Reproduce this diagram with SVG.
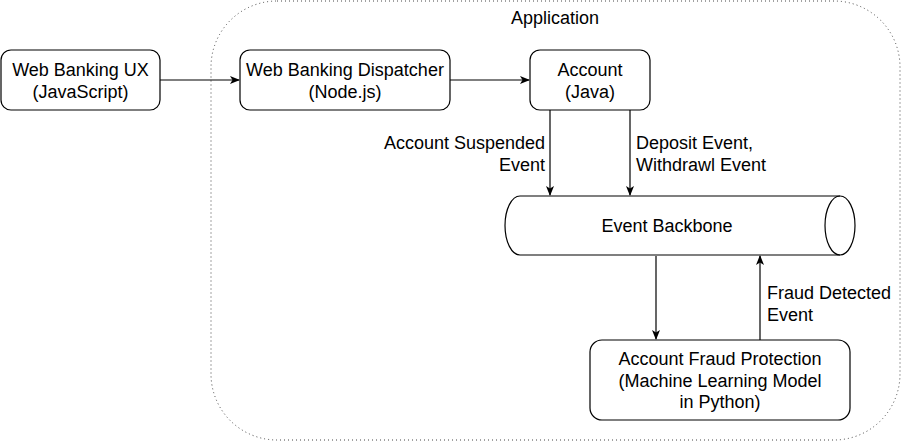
<svg xmlns="http://www.w3.org/2000/svg" width="901" height="441" viewBox="0 0 901 441">
<defs>
<style>
text{font-family:"Liberation Sans",Arial,Helvetica,sans-serif;font-size:18px;fill:#000}
.box{fill:#fff;stroke:#000;stroke-width:1.2}
.c{text-anchor:middle}
.e{text-anchor:end}
.edge{fill:none;stroke:#000;stroke-width:1.2}
</style>
<marker id="arr" viewBox="0 0 10 10" refX="9" refY="5" markerWidth="10" markerHeight="10" markerUnits="userSpaceOnUse" orient="auto">
<path d="M0,1 L10,5 L0,9 L2.5,5 Z" fill="#000"/>
</marker>
</defs>
<rect width="901" height="441" fill="#fff"/>
<g id="application">
<rect x="211" y="1" width="689" height="439" rx="66" ry="66" fill="none" stroke="#444" stroke-width="1" stroke-dasharray="1 3"/>
<text x="555" y="24" class="c">Application</text>
</g>
<g id="connectors">
<path class="edge" d="M160,80 L239,80" marker-end="url(#arr)"/>
<path class="edge" d="M450,80 L529,80" marker-end="url(#arr)"/>
<path class="edge" d="M550,110 L550,195" marker-end="url(#arr)"/>
<path class="edge" d="M630,110 L630,195" marker-end="url(#arr)"/>
<path class="edge" d="M656,256 L656,339" marker-end="url(#arr)"/>
<path class="edge" d="M760,340 L760,256" marker-end="url(#arr)"/>
<text x="545" y="149" class="e">Account Suspended</text>
<text x="545" y="171" class="e">Event</text>
<text x="636" y="149">Deposit Event,</text>
<text x="636" y="171">Withdrawl Event</text>
<text x="767" y="299">Fraud Detected</text>
<text x="767" y="321">Event</text>
</g>
<g id="web-ux">
<rect class="box" x="1" y="50" width="159" height="60" rx="10"/>
<text x="80.5" y="76" class="c">Web Banking UX</text>
<text x="80.5" y="98" class="c">(JavaScript)</text>
</g>
<g id="dispatcher">
<rect class="box" x="240" y="50" width="210" height="60" rx="10"/>
<text x="345" y="76" class="c">Web Banking Dispatcher</text>
<text x="345" y="98" class="c">(Node.js)</text>
</g>
<g id="account">
<rect class="box" x="530" y="50" width="120" height="60" rx="10"/>
<text x="590" y="76" class="c">Account</text>
<text x="590" y="98" class="c">(Java)</text>
</g>
<g id="event-backbone">
<path class="box" d="M520,196 L840,196 A15,29.5 0 0 1 840,255 L520,255 A15,29.5 0 0 1 520,196 Z"/>
<path class="edge" d="M840,196 A15,29.5 0 0 0 840,255"/>
<text x="667" y="232" class="c">Event Backbone</text>
</g>
<g id="fraud">
<rect class="box" x="590" y="340" width="260" height="80" rx="12"/>
<text x="720" y="365" class="c">Account Fraud Protection</text>
<text x="720" y="387" class="c">(Machine Learning Model</text>
<text x="720" y="408" class="c">in Python)</text>
</g>
</svg>
